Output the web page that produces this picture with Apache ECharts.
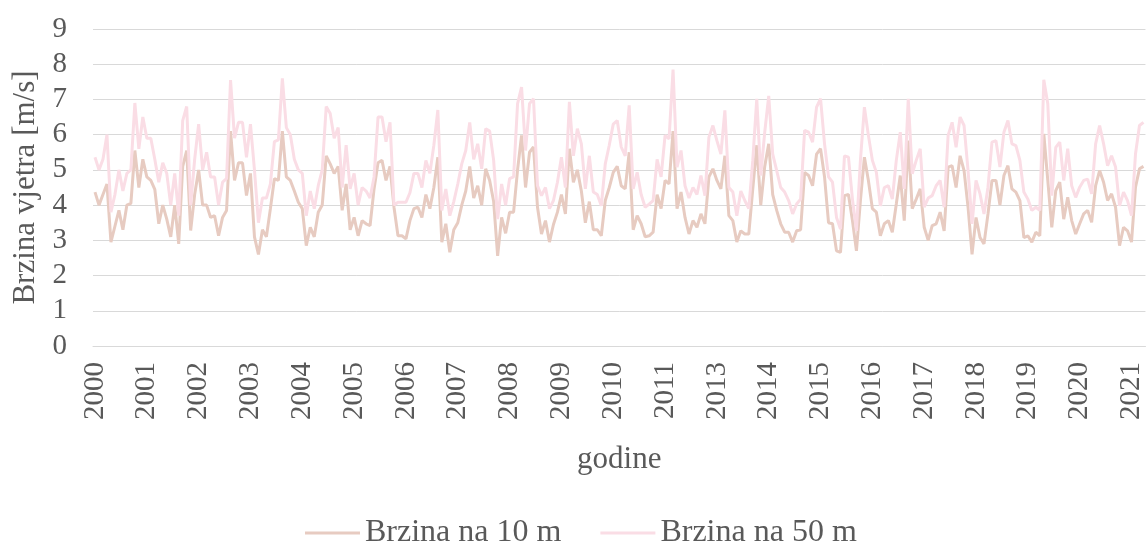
<!DOCTYPE html>
<html>
<head>
<meta charset="utf-8">
<script src="https://cdn.jsdelivr.net/npm/echarts@6/dist/echarts.min.js"></script>
<style>
html,body{margin:0;padding:0;background:#ffffff;}
#chart{width:1146px;height:544px;}
</style>
</head>
<body>
<div id="chart"></div>
<script>
// ---- data ----
const years = [2000,2001,2002,2003,2004,2005,2006,2007,2008,2009,2010,2011,2012,2013,2014,2015,2016,2017,2018,2019,2020,2021];
const months = ['01','02','03','04','05','06','07','08','09','10','11','12'];
const categories = [];
years.forEach(function (y) { months.forEach(function (m) { categories.push(y + '-' + m); }); });

const seriesNames = ['Brzina na 10 m', 'Brzina na 50 m'];

const speed10m = [
  4.37,4.0,4.3,4.6,2.95,3.4,3.85,3.3,4.0,4.05,
  5.55,4.5,5.3,4.8,4.7,4.45,3.47,4.0,3.6,3.1,
  4.0,2.9,5.1,5.55,3.28,4.3,5.0,4.0,4.0,3.65,
  3.7,3.13,3.65,3.85,6.1,4.7,5.2,5.2,4.27,4.9,
  3.1,2.6,3.3,3.1,3.9,4.75,4.7,6.1,4.8,4.7,
  4.4,4.08,3.9,2.85,3.37,3.1,3.8,4.0,5.4,5.17,
  4.9,5.1,3.85,4.6,3.3,3.65,3.13,3.56,3.47,3.42,
  4.46,5.2,5.27,4.7,5.1,3.94,3.13,3.13,3.04,3.56,
  3.9,3.94,3.65,4.3,3.9,4.5,5.36,2.95,3.47,2.66,
  3.3,3.5,4.0,4.4,5.1,4.2,4.55,4.0,5.03,4.7,
  4.1,2.56,3.65,3.2,3.8,3.8,5.0,5.98,4.5,5.5,
  5.65,3.94,3.18,3.56,2.95,3.45,3.8,4.3,3.75,5.6,
  4.65,5.0,4.4,3.5,4.1,3.3,3.3,3.13,4.13,4.5,
  4.93,5.1,4.55,4.46,5.5,3.3,3.7,3.47,3.1,3.13,
  3.23,4.3,3.9,4.7,4.6,6.1,3.9,4.37,3.65,3.18,
  3.56,3.37,3.75,3.47,4.8,5.03,4.7,4.46,5.4,3.7,
  3.56,2.95,3.27,3.18,3.18,4.46,5.7,4.0,5.1,5.74,
  4.3,3.85,3.47,3.23,3.23,2.95,3.27,3.3,4.93,4.84,
  4.55,5.45,5.6,4.8,3.5,3.47,2.7,2.66,4.27,4.3,
  3.56,2.7,4.13,5.36,4.7,3.9,3.8,3.13,3.47,3.56,
  3.23,4.03,4.84,3.56,5.83,3.9,4.17,4.46,3.37,3.0,
  3.42,3.47,3.8,3.27,5.08,5.12,4.5,5.4,4.98,3.94,
  2.6,3.65,3.08,2.9,3.75,4.7,4.7,4.0,4.84,5.12,
  4.46,4.37,4.13,3.08,3.13,2.95,3.23,3.13,6.02,4.7,
  3.37,4.41,4.65,3.6,4.22,3.56,3.18,3.47,3.75,3.85,
  3.51,4.55,4.98,4.65,4.13,4.32,3.94,2.85,3.37,3.27,
  2.95,4.51,5.03,5.1
];

const speed50m = [
  5.36,5.0,5.3,6.0,3.8,4.3,5.0,4.4,4.9,5.0,
  6.9,5.6,6.5,5.9,5.9,5.3,4.65,5.2,4.9,4.0,
  4.9,3.7,6.4,6.8,4.0,5.3,6.3,5.0,5.5,4.8,
  4.8,4.0,4.65,4.75,7.55,5.9,6.35,6.35,5.36,6.3,
  5.0,3.5,4.2,4.2,4.6,5.8,5.85,7.6,6.2,6.0,
  5.3,5.0,4.9,3.7,4.4,3.9,4.55,5.0,6.8,6.6,
  5.9,6.2,4.5,5.7,4.46,4.9,4.0,4.5,4.4,4.2,
  4.8,6.5,6.5,5.8,6.35,4.0,4.08,4.08,4.08,4.35,
  4.9,4.9,4.5,5.27,4.9,5.7,6.7,3.85,4.46,3.7,
  4.1,4.6,5.17,5.55,6.35,5.3,5.74,5.03,6.17,6.1,
  5.27,3.6,4.6,4.0,4.75,4.8,6.88,7.35,5.55,6.88,
  7.02,4.55,4.27,4.5,3.9,4.13,4.65,5.36,4.5,6.93,
  5.4,6.17,5.74,4.46,5.4,4.37,4.3,3.98,5.17,5.7,
  6.3,6.4,5.65,5.4,6.83,4.46,4.93,4.3,3.94,4.03,
  4.13,5.3,4.8,5.98,5.88,7.85,5.08,5.55,4.55,4.2,
  4.5,4.3,4.84,4.27,5.93,6.26,5.83,5.45,6.69,4.5,
  4.37,3.7,4.4,4.13,3.9,5.27,7.02,4.84,6.07,7.1,
  5.45,4.98,4.5,4.37,4.13,3.75,4.03,4.17,6.12,6.07,
  5.79,6.78,7.02,5.74,4.8,4.65,3.65,3.32,5.4,5.36,
  4.17,3.27,5.27,6.78,5.98,5.27,4.93,3.98,4.5,4.55,
  4.17,5.27,6.07,4.46,7.02,4.89,5.27,5.6,3.94,4.2,
  4.27,4.55,4.7,3.94,5.98,6.35,5.64,6.5,6.26,4.98,
  3.47,4.7,4.32,3.75,4.51,5.79,5.83,5.08,6.07,6.4,
  5.74,5.69,5.27,4.37,4.17,3.85,3.94,3.85,7.56,6.88,
  4.27,5.64,5.79,4.7,5.6,4.55,4.22,4.51,4.7,4.74,
  4.32,5.74,6.26,5.74,5.12,5.4,5.08,3.98,4.37,4.13,
  3.7,5.45,6.26,6.35
];

const yMin = 0, yMax = 9, yStep = 1;
const labelEvery = 13; // one year label every 13 months

// ---- chart ----
const FONT = '"Liberation Serif", "Times New Roman", serif';
const TEXT = '#595959';
const GRID = '#D9D9D9';

const chart = echarts.init(document.getElementById('chart'), null, {renderer: 'canvas'});
chart.setOption({
  animation: false,
  backgroundColor: '#ffffff',
  textStyle: {fontFamily: FONT, color: TEXT},
  grid: {left: 93, top: 29, width: 1056, height: 317, containLabel: false},
  legend: {
    left: 300, top: 512,
    icon: 'rect',
    itemWidth: 55, itemHeight: 3, itemGap: 39,
    textStyle: {fontFamily: FONT, fontSize: 32, color: TEXT},
    data: seriesNames
  },
  xAxis: {
    type: 'category',
    data: categories,
    boundaryGap: true,
    name: 'godine',
    nameLocation: 'middle',
    nameGap: 98,
    nameTextStyle: {fontFamily: FONT, fontSize: 31, color: TEXT},
    axisLine: {show: true, lineStyle: {color: GRID, width: 1}},
    axisTick: {show: false},
    axisLabel: {
      interval: function (index) { return index % labelEvery === 0; },
      rotate: 90,
      margin: 16,
      hideOverlap: false,
      fontFamily: FONT, fontSize: 29, color: TEXT,
      formatter: function (v) { return v.slice(0, 4); }
    },
    splitLine: {show: false}
  },
  yAxis: {
    type: 'value',
    min: yMin, max: yMax, interval: yStep,
    name: 'Brzina vjetra [m/s]',
    nameLocation: 'middle',
    nameGap: 50,
    nameTextStyle: {fontFamily: FONT, fontSize: 31, color: TEXT},
    axisLine: {show: false},
    axisTick: {show: false},
    axisLabel: {margin: 26, fontFamily: FONT, fontSize: 29, color: TEXT},
    splitLine: {show: true, lineStyle: {color: GRID, width: 1}}
  },
  series: [
    {
      name: seriesNames[0], type: 'line', data: speed10m,
      symbol: 'none', smooth: false,
      lineStyle: {color: '#E7CBC1', width: 3},
      itemStyle: {color: '#E7CBC1'}
    },
    {
      name: seriesNames[1], type: 'line', data: speed50m,
      symbol: 'none', smooth: false,
      lineStyle: {color: '#FADDE5', width: 3},
      itemStyle: {color: '#FADDE5'}
    }
  ]
});
</script>
</body>
</html>
